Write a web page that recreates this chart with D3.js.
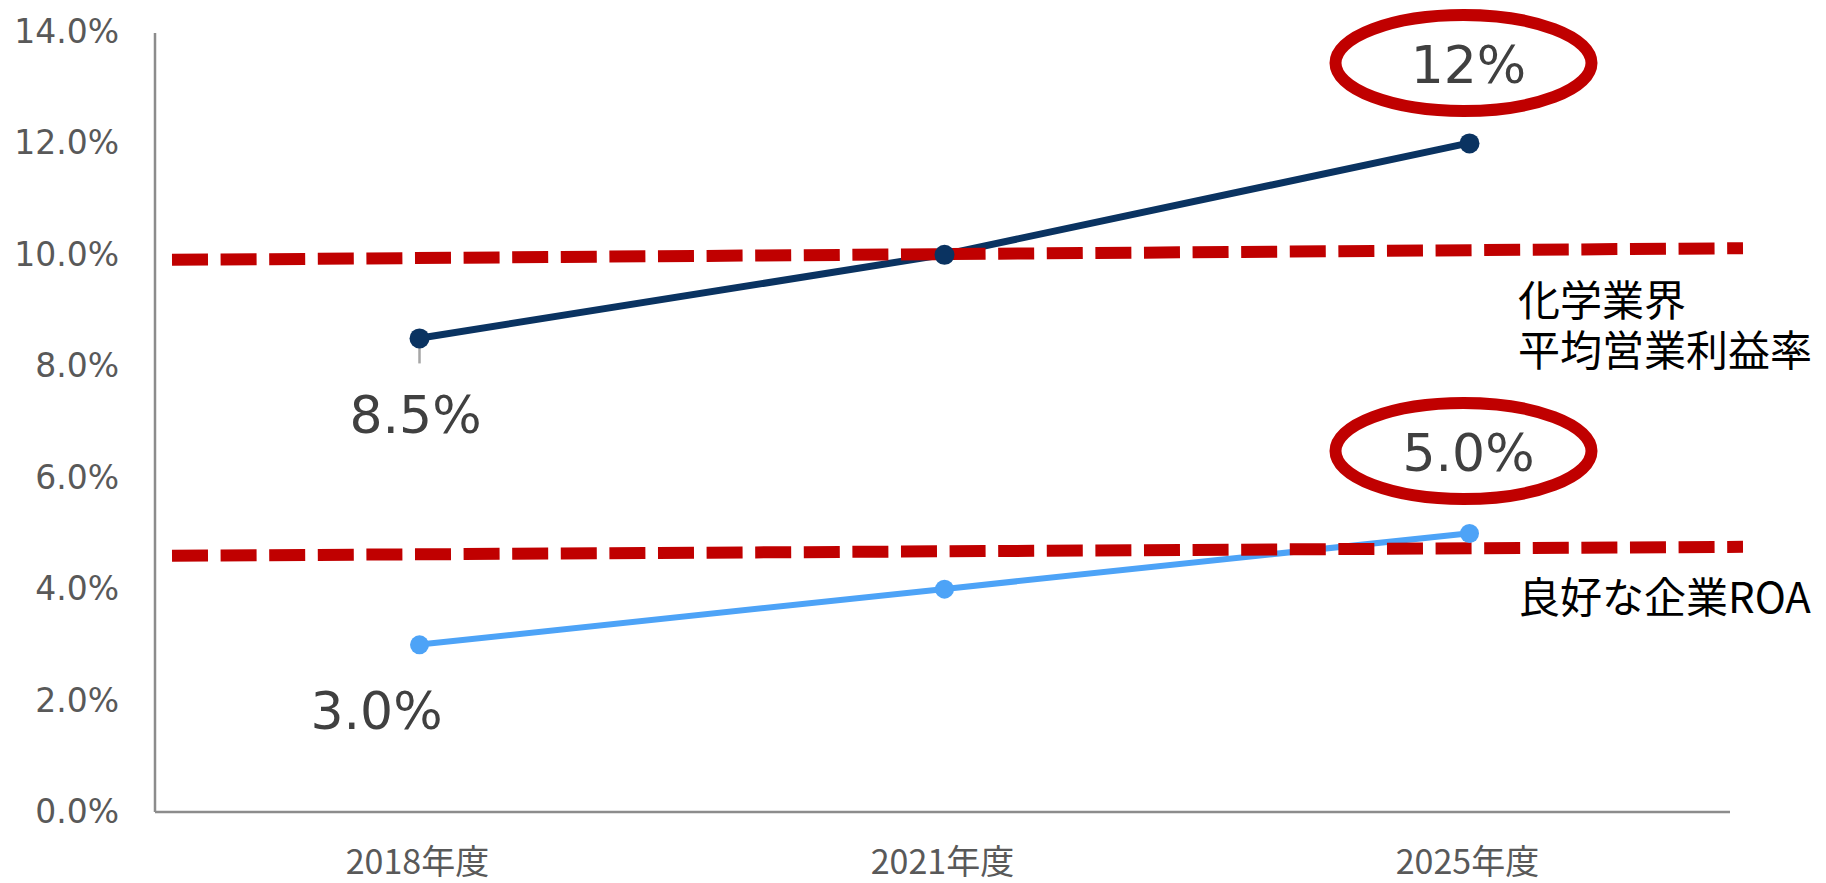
<!doctype html>
<html>
<head>
<meta charset="utf-8">
<script src="https://cdnjs.cloudflare.com/ajax/libs/d3/7.8.5/d3.min.js"></script>
<style>
  body { margin: 0; background: #fff; }
  svg { display: block; }
  .tick-label { font-family: "DejaVu Sans", Verdana, sans-serif; font-size: 33px; fill: #595959; }
  .cat-label { font-family: "Noto Sans CJK JP", sans-serif; font-size: 34px; fill: #595959; }
  .val-label { font-family: "DejaVu Sans", Verdana, sans-serif; font-size: 52px; fill: #404040; }
  .ref-label { font-family: "Noto Sans CJK JP", sans-serif; font-size: 42px; fill: #000; }
</style>
</head>
<body>
<svg id="chart" width="1826" height="883"></svg>
<script>
// data
var categories = ["2018年度", "2021年度", "2025年度"];
var profitMargin = [8.5, 10.0, 12.0];   // dark line
var roa = [3.0, 4.0, 5.0];              // light line
var yTicks = [0, 2, 4, 6, 8, 10, 12, 14];
var chemAvgLine = [9.91, 10.12];        // dashed reference, left/right end
var goodRoaLine = [4.60, 4.76];
var chemAvgText = ["化学業界", "平均営業利益率"];
var goodRoaText = ["良好な企業ROA"];
var startLabels = ["8.5%", "3.0%"];
var endLabels = ["12%", "5.0%"];

var svg = d3.select("#chart");

var x = d3.scalePoint().domain(categories).range([155, 1730]).padding(0.5);
var y = d3.scaleLinear().domain([0, 14]).range([812, 32]);

var navy = "#0a3361", sky = "#4da3f7", red = "#c00000";

// axes (custom, Excel style)
svg.append("line")
  .attr("x1", 155).attr("x2", 155).attr("y1", 33).attr("y2", y(0))
  .attr("stroke", "#8c8c8c").attr("stroke-width", 2.5);
svg.append("line")
  .attr("x1", 155).attr("x2", 1730).attr("y1", y(0)).attr("y2", y(0))
  .attr("stroke", "#8c8c8c").attr("stroke-width", 2.5);

svg.selectAll("text.tick-label")
  .data(yTicks)
  .enter().append("text")
  .attr("class", "tick-label")
  .attr("x", 119)
  .attr("y", d => y(d) + 11)
  .attr("text-anchor", "end")
  .text(d => d.toFixed(1) + "%");

svg.selectAll("text.cat-label")
  .data(categories)
  .enter().append("text")
  .attr("class", "cat-label")
  .attr("x", d => x(d))
  .attr("y", 874)
  .attr("text-anchor", "middle")
  .text(d => d);

var line = d3.line()
  .x((d, i) => x(categories[i]))
  .y(d => y(d));

svg.append("path")
  .datum(profitMargin)
  .attr("d", line)
  .attr("fill", "none")
  .attr("stroke", navy)
  .attr("stroke-width", 7);

svg.append("path")
  .datum(roa)
  .attr("d", line)
  .attr("fill", "none")
  .attr("stroke", sky)
  .attr("stroke-width", 6);

// dashed reference lines
var refX = d3.scaleLinear().domain([0, 1]).range([172, 1743]);
[chemAvgLine, goodRoaLine].forEach(function (ends) {
  svg.append("line")
    .attr("x1", refX(0)).attr("y1", y(ends[0]))
    .attr("x2", refX(1)).attr("y2", y(ends[1]))
    .attr("stroke", red)
    .attr("stroke-width", 12)
    .attr("stroke-dasharray", "36 12.6");
});

// leader tick under first point
svg.append("line")
  .attr("x1", x(categories[0]) + 2).attr("x2", x(categories[0]) + 2)
  .attr("y1", y(profitMargin[0])).attr("y2", y(profitMargin[0]) + 25)
  .attr("stroke", "#a6a6a6").attr("stroke-width", 2.5);

svg.selectAll("circle.pm")
  .data(profitMargin)
  .enter().append("circle")
  .attr("class", "pm")
  .attr("cx", (d, i) => x(categories[i]) + 2)
  .attr("cy", d => y(d))
  .attr("r", 10)
  .attr("fill", navy);

svg.selectAll("circle.roa")
  .data(roa)
  .enter().append("circle")
  .attr("class", "roa")
  .attr("cx", (d, i) => x(categories[i]) + 2)
  .attr("cy", d => y(d))
  .attr("r", 9.5)
  .attr("fill", sky);

// start value labels
svg.append("text").attr("class", "val-label")
  .attr("x", x(categories[0]) - 2).attr("y", y(profitMargin[0]) + 95)
  .attr("text-anchor", "middle").text(startLabels[0]);
svg.append("text").attr("class", "val-label")
  .attr("x", x(categories[0]) - 41).attr("y", y(roa[0]) + 84)
  .attr("text-anchor", "middle").text(startLabels[1]);

// circled end labels
var endCy = [63, 451];
endLabels.forEach(function (t, i) {
  var cx = x(categories[2]) - 4;
  svg.append("ellipse")
    .attr("cx", cx).attr("cy", endCy[i])
    .attr("rx", 128).attr("ry", 48)
    .attr("fill", "none")
    .attr("stroke", red)
    .attr("stroke-width", 12);
  svg.append("text").attr("class", "val-label")
    .attr("x", cx + 5).attr("y", endCy[i] + 20)
    .attr("text-anchor", "middle").text(t);
});

// reference line captions
svg.append("text")
  .attr("class", "ref-label")
  .attr("x", 1518).attr("y", 316)
  .selectAll("tspan")
  .data(chemAvgText)
  .enter().append("tspan")
  .attr("x", 1518)
  .attr("dy", (d, i) => i === 0 ? 0 : 50)
  .text(d => d);

svg.append("text")
  .attr("class", "ref-label")
  .attr("x", 1518).attr("y", 613)
  .text(goodRoaText[0]);
</script>
</body>
</html>
